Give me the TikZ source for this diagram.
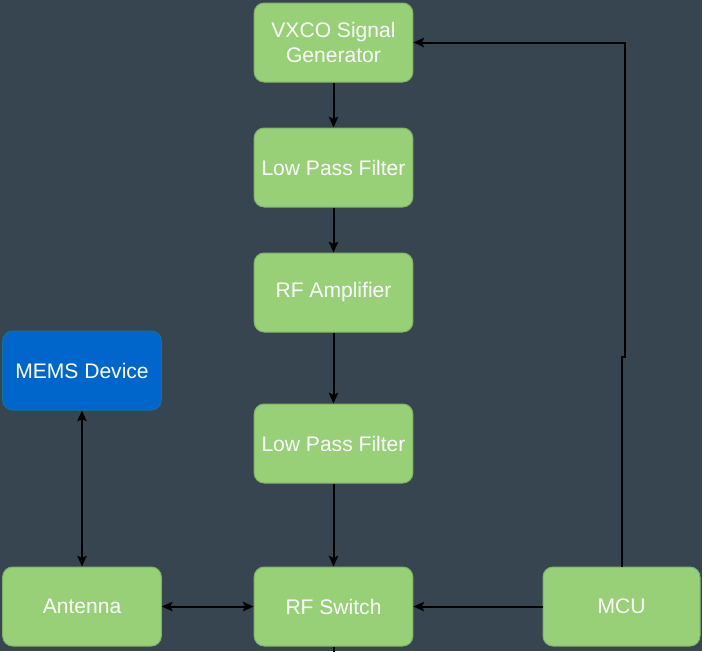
\documentclass[tikz,border=0pt]{standalone}
\usepackage{fontspec}
\setmainfont{Liberation Sans}
\usetikzlibrary{arrows.meta}
\definecolor{bg}{HTML}{36454F}
\definecolor{gfill}{HTML}{97D077}
\definecolor{gborder}{HTML}{82B366}
\definecolor{bfill}{HTML}{0066CC}
\definecolor{bborder}{HTML}{10739E}
\begin{document}
\begin{tikzpicture}[x=0.75pt,y=-0.75pt,
  box/.style={draw=gborder, fill=gfill, rounded corners=7.5pt, line width=0.75pt,
    minimum width=119pt, minimum height=59.25pt, inner sep=0pt, align=center,
    text=white, font=\fontsize{15.8}{18.8}\selectfont},
  bluebox/.style={box, draw=bborder, fill=bfill},
  wire/.style={line width=1.5pt, draw=black},
  conn/.style={wire, -{Stealth[length=8pt,width=7pt,inset=1.5pt]}},
  biconn/.style={wire, {Stealth[length=8pt,width=7pt,inset=1.5pt]}-{Stealth[length=8pt,width=7pt,inset=1.5pt]}}]
\fill[bg] (0,0) rectangle (702,651);
\useasboundingbox (0,0) rectangle (702,651);
\node[box] (vxco) at (333.5,42.5) {VXCO Signal\\Generator};
\node[box] (lpf1) at (333.5,167.5) {Low Pass Filter};
\node[box] (rfa) at (333.5,292.5) {RF Amplifier};
\node[box] (lpf2) at (333.5,443.5) {Low Pass Filter};
\node[box] (rfs) at (333.5,606.5) {RF Switch};
\node[bluebox] (mems) at (82,370.5) {MEMS Device};
\node[box] (ant) at (82,606.5) {Antenna};
\node[box, minimum width=117.75pt] (mcu) at (621.5,606.5) {MCU};
\coordinate (j1) at (622,357);
\coordinate (j2) at (624.5,357);
\coordinate (bot) at (333.5,652);
\draw[conn] (vxco) -- (lpf1);
\draw[conn] (lpf1) -- (rfa);
\draw[conn] (rfa) -- (lpf2);
\draw[conn] (lpf2) -- (rfs);
\draw[biconn] (mems) -- (ant);
\draw[biconn] (ant) -- (rfs);
\draw[conn] (mcu) -- (rfs);
\draw[conn] (mcu.north -| j1) -- (j1) -- (j2) -- (j2 |- vxco.east) -- (vxco.east);
\draw[wire] (rfs.south) -- (bot);
\end{tikzpicture}
\end{document}
